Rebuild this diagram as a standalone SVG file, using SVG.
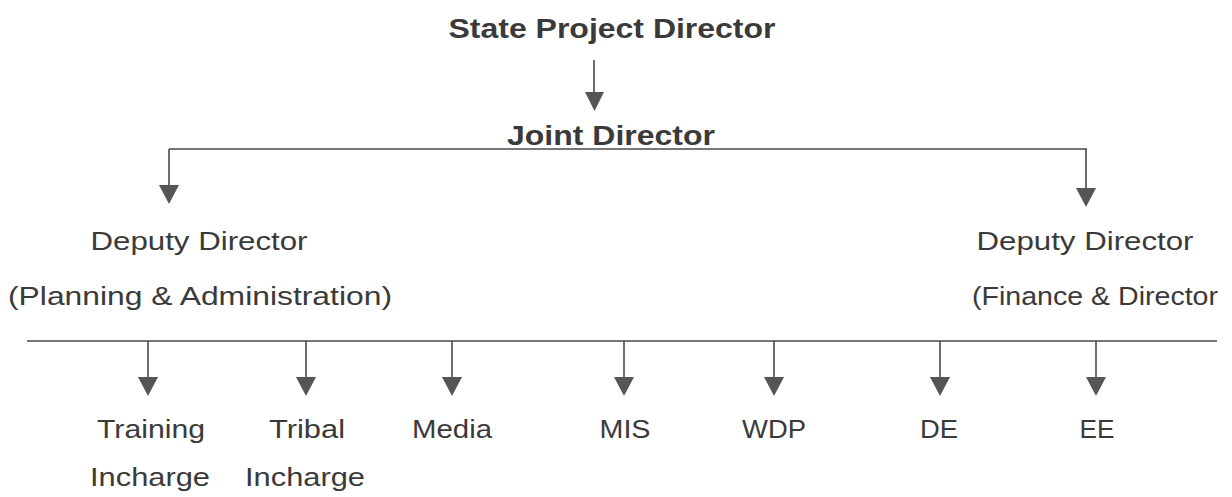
<svg xmlns="http://www.w3.org/2000/svg" width="1232" height="497" viewBox="0 0 1232 497">
<defs>
<style>
.t{font-family:"Liberation Sans",Arial,sans-serif;font-size:26px;fill:#3a3a3a;text-anchor:middle}
.b{font-weight:bold;font-size:27px}
.ln{stroke:#4a4a4a;stroke-width:1.6;fill:none}
.hd{fill:#555555}
</style>
</defs>
<rect width="1232" height="497" fill="#ffffff"/>
<g id="connectors">
<line class="ln" x1="594" y1="60" x2="594" y2="94"/>
<polygon class="hd" points="585,92 604,92 594.5,111"/>
<line class="ln" x1="169" y1="149" x2="1087" y2="149"/>
<line class="ln" x1="169" y1="149" x2="169" y2="187"/>
<polygon class="hd" points="159,185 179,185 169,204"/>
<line class="ln" x1="1086" y1="149" x2="1086" y2="190"/>
<polygon class="hd" points="1076,188 1096,188 1086,207"/>
<line class="ln" x1="27" y1="341" x2="1217" y2="341"/>
<line class="ln" x1="148" y1="341" x2="148" y2="379"/>
<polygon class="hd" points="138,377 158,377 148,396"/>
<line class="ln" x1="306" y1="341" x2="306" y2="379"/>
<polygon class="hd" points="296,377 316,377 306,396"/>
<line class="ln" x1="452" y1="341" x2="452" y2="379"/>
<polygon class="hd" points="442,377 462,377 452,396"/>
<line class="ln" x1="624" y1="341" x2="624" y2="379"/>
<polygon class="hd" points="614,377 634,377 624,396"/>
<line class="ln" x1="774" y1="341" x2="774" y2="379"/>
<polygon class="hd" points="764,377 784,377 774,396"/>
<line class="ln" x1="940" y1="341" x2="940" y2="379"/>
<polygon class="hd" points="930,377 950,377 940,396"/>
<line class="ln" x1="1096" y1="341" x2="1096" y2="379"/>
<polygon class="hd" points="1086,377 1106,377 1096,396"/>
</g>
<g id="spd"><text class="t b" x="612" y="38" textLength="327" lengthAdjust="spacingAndGlyphs">State Project Director</text></g>
<g id="jd"><text class="t b" x="611" y="145" textLength="208" lengthAdjust="spacingAndGlyphs">Joint Director</text></g>
<g id="ddpa">
<text class="t" x="199" y="250" textLength="217" lengthAdjust="spacingAndGlyphs">Deputy Director</text>
<text class="t" x="200" y="305" textLength="384" lengthAdjust="spacingAndGlyphs">(Planning &amp; Administration)</text>
</g>
<g id="ddfd">
<text class="t" x="1085" y="250" textLength="217" lengthAdjust="spacingAndGlyphs">Deputy Director</text>
<text class="t" x="1095" y="305" textLength="246" lengthAdjust="spacingAndGlyphs">(Finance &amp; Director</text>
</g>
<g id="training">
<text class="t" x="151" y="438" textLength="108" lengthAdjust="spacingAndGlyphs">Training</text>
<text class="t" x="150" y="486" textLength="120" lengthAdjust="spacingAndGlyphs">Incharge</text>
</g>
<g id="tribal">
<text class="t" x="307" y="438" textLength="76" lengthAdjust="spacingAndGlyphs">Tribal</text>
<text class="t" x="305" y="486" textLength="120" lengthAdjust="spacingAndGlyphs">Incharge</text>
</g>
<g id="media"><text class="t" x="452" y="438" textLength="80" lengthAdjust="spacingAndGlyphs">Media</text></g>
<g id="mis"><text class="t" x="625" y="438" textLength="51" lengthAdjust="spacingAndGlyphs">MIS</text></g>
<g id="wdp"><text class="t" x="774" y="438" textLength="64" lengthAdjust="spacingAndGlyphs">WDP</text></g>
<g id="de"><text class="t" x="939" y="438" textLength="38" lengthAdjust="spacingAndGlyphs">DE</text></g>
<g id="ee"><text class="t" x="1097" y="438" textLength="35" lengthAdjust="spacingAndGlyphs">EE</text></g>
</svg>
